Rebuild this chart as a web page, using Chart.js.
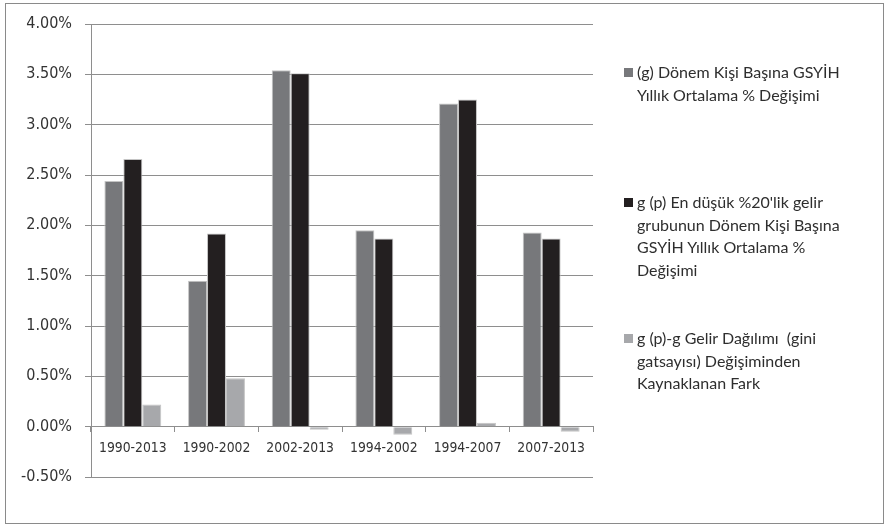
<!DOCTYPE html>
<html>
<head>
<meta charset="utf-8">
<script src="https://cdn.jsdelivr.net/npm/chart.js@4.4.1/dist/chart.umd.min.js"></script>
<style>
  html, body { margin: 0; padding: 0; background: #fff; }
  #wrap { position: relative; width: 887px; height: 525px; }
  #frame { position: absolute; left: 5px; top: 3px; width: 877px; height: 519px; border: 1.5px solid #8a8a8a; }
  #legend { position: absolute; left: 0; top: 0; font-family: Lato, "Open Sans", sans-serif; font-size: 16px; color: #2e2e2e; }
  .item { position: absolute; left: 624px; line-height: 22.7px; white-space: pre; }
  .box { position: absolute; left: 0; top: 7px; width: 9px; height: 9px; }
  .txt { position: absolute; left: 13px; top: 0; }
</style>
</head>
<body>
<div id="wrap">
  <canvas id="c" width="887" height="525"></canvas>
  <div id="frame"></div>
  <div id="legend"></div>
</div>
<script>
const categories = ['1990-2013', '1990-2002', '2002-2013', '1994-2002', '1994-2007', '2007-2013'];

const seriesG = [2.44, 1.45, 3.54, 1.95, 3.21, 1.93];
const seriesGp = [2.66, 1.92, 3.51, 1.87, 3.25, 1.87];
const seriesDiff = [0.22, 0.48, -0.03, -0.08, 0.04, -0.05];

const seriesNames = [
  ['(g) Dönem Kişi Başına GSYİH', 'Yıllık Ortalama % Değişimi'],
  ["g (p) En düşük %20'lik gelir", 'grubunun Dönem Kişi Başına', 'GSYİH Yıllık Ortalama %', 'Değişimi'],
  ['g (p)-g Gelir Dağılımı  (gini', 'gatsayısı) Değişiminden', 'Kaynaklanan Fark'],
];
const seriesColors = ['#77787b', '#231f20', '#a7a8ab'];
const legendTops = [61, 191, 327];

const axisFont = '"DejaVu Sans Condensed", "DejaVu Sans", sans-serif';
const gridColor = '#8e8e8e';

function makeSet(i, data) {
  return {
    label: seriesNames[i].join(' '),
    data: data,
    backgroundColor: seriesColors[i],
    borderColor: '#c4c4c4',
    borderWidth: 1,
    categoryPercentage: 0.68,
    barPercentage: 1.0,
  };
}

const chart = new Chart(document.getElementById('c').getContext('2d'), {
  type: 'bar',
  data: {
    labels: categories,
    datasets: [makeSet(0, seriesG), makeSet(1, seriesGp), makeSet(2, seriesDiff)],
  },
  options: {
    responsive: false,
    animation: false,
    layout: { padding: { left: 0, right: 294, top: 24, bottom: 48 } },
    plugins: {
      legend: { display: false },
      tooltip: { enabled: false },
    },
    scales: {
      x: {
        position: { y: 0 },
        grid: { drawOnChartArea: false, drawTicks: true, tickLength: 5, color: gridColor, offset: true },
        border: { display: true, color: gridColor },
        ticks: { color: '#333', font: { family: axisFont, size: 13.8 }, padding: 8, autoSkip: false, maxRotation: 0 },
        afterFit: (scale) => { scale.height = 20; },
      },
      y: {
        min: -0.5,
        max: 4,
        grid: { color: gridColor, tickLength: 6 },
        border: { display: true, color: gridColor },
        ticks: {
          stepSize: 0.5,
          color: '#333',
          padding: 13,
          font: { family: axisFont, size: 16 },
          callback: (v) => Number(v).toFixed(2) + '%',
        },
        afterFit: (scale) => { scale.width = 91; },
      },
    },
  },
});

const legend = document.getElementById('legend');
seriesNames.forEach((lines, i) => {
  const item = document.createElement('div');
  item.className = 'item';
  item.style.top = legendTops[i] + 'px';
  item.innerHTML = '<div class="box" style="background:' + seriesColors[i] + '"></div><div class="txt">' + lines.join('\n') + '</div>';
  legend.appendChild(item);
});
</script>
</body>
</html>
